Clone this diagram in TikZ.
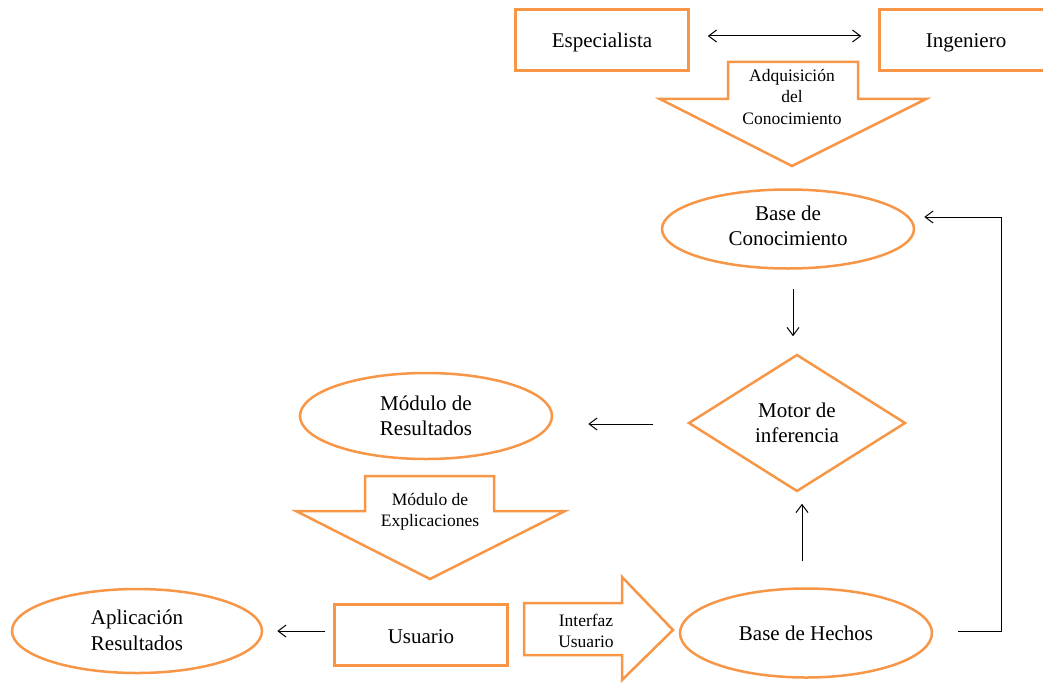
\documentclass[tikz,border=0pt]{standalone}
\usepackage{fontspec}
\setmainfont{Liberation Serif}
\usetikzlibrary{shapes.geometric,arrows.meta}
\definecolor{accent}{RGB}{247,150,70}
\newcommand\mainfs{\fontsize{21}{25.5}\selectfont}
\newcommand\smallfs{\fontsize{17.5}{21.5}\selectfont}
% lowers a (possibly multi-line) label without changing its reported size
\newcommand\dropby[2]{\raisebox{-#1}[\height][\depth]{\begin{tabular}{@{}c@{}}#2\end{tabular}}}
\begin{document}
\begin{tikzpicture}[x=1pt,y=-1pt,
  outline/.style={draw=accent,line width=2.5pt,line join=miter},
  box/.style={outline,rectangle,minimum width=173pt,minimum height=61pt,inner sep=0pt,font=\mainfs},
  oval/.style={outline,ellipse,inner sep=0pt,align=center,font=\mainfs},
  rhomb/.style={outline,diamond,aspect=1.58,inner sep=0pt,align=center,font=\mainfs},
  blocktext/.style={align=center,inner sep=0pt,font=\smallfs},
  tip/.tip={Straight Barb[length=8pt,width=12pt]},
  conn/.style={draw=black,line width=1pt,-tip},
  biconn/.style={conn,tip-tip},
]
\useasboundingbox (0,0) rectangle (1043,682);

% actors of the knowledge acquisition
\node[box] (esp) at (602,40) {\dropby{2.5pt}{Especialista}};
\node[box] (ing) at (966,40) {\dropby{2.5pt}{Ingeniero}};

% block arrow: knowledge acquisition
\draw[outline] (728,62) -- (858,62) -- (858,99) -- (926,99) -- (792,166)
  -- (660,99) -- (728,99) -- cycle;
\node[blocktext] (adq) at (792,97) {Adquisición\\del\\Conocimiento};

% core of the system
\node[oval,minimum width=252pt,minimum height=79pt] (bc) at (788,229) {\dropby{-1pt}{Base de\\Conocimiento}};
\node[rhomb,minimum width=217pt,minimum height=137pt] (mi) at (797,423) {\dropby{2pt}{Motor de\\inferencia}};
\node[oval,minimum width=252pt,minimum height=89pt] (bh) at (806,633) {Base de Hechos};
\node[oval,minimum width=252pt,minimum height=86pt] (mr) at (426,416) {\dropby{2pt}{Módulo de\\Resultados}};

% block arrow: explanations
\draw[outline] (365,476) -- (494,476) -- (494,511) -- (565,511) -- (430,579)
  -- (296,511) -- (365,511) -- cycle;
\node[blocktext] (mex) at (430,512) {Módulo de\\Explicaciones};

% user side
\node[box] (us) at (421,635) {\dropby{3pt}{Usuario}};
\node[oval,minimum width=250pt,minimum height=84pt] (ar) at (137,631) {\dropby{1.5pt}{Aplicación\\Resultados}};

% block arrow: user interface
\draw[outline] (524,603) -- (622,603) -- (622,577) -- (673,630) -- (622,680)
  -- (622,655) -- (524,655) -- cycle;
\node[blocktext] (iu) at (586,631) {Interfaz\\Usuario};

% connectors
\draw[biconn,shorten <=18pt,shorten >=17pt] ([yshift=4pt]esp.east) -- ([yshift=4pt]ing.west);
\draw[conn,shorten <=19pt,shorten >=17pt] ([xshift=5pt]bc.south) -- ([xshift=-4pt]mi.north);
\draw[conn,shorten <=26pt,shorten >=11pt] ([xshift=-4pt]bh.north) -- ([xshift=5pt]mi.south);
\draw[conn,shorten <=34pt,shorten >=35pt] ([yshift=-1pt]mi.west) -- ([yshift=-8pt]mr.east);
\draw[conn,shorten <=8pt,shorten >=14pt] ([yshift=4pt]us.west) -- (ar.east);
\draw[conn] ([xshift=25pt,yshift=2pt]bh.east) -| ([xshift=86pt,yshift=12pt]bc.east)
  -- ([xshift=9pt,yshift=12pt]bc.east);
\end{tikzpicture}
\end{document}
